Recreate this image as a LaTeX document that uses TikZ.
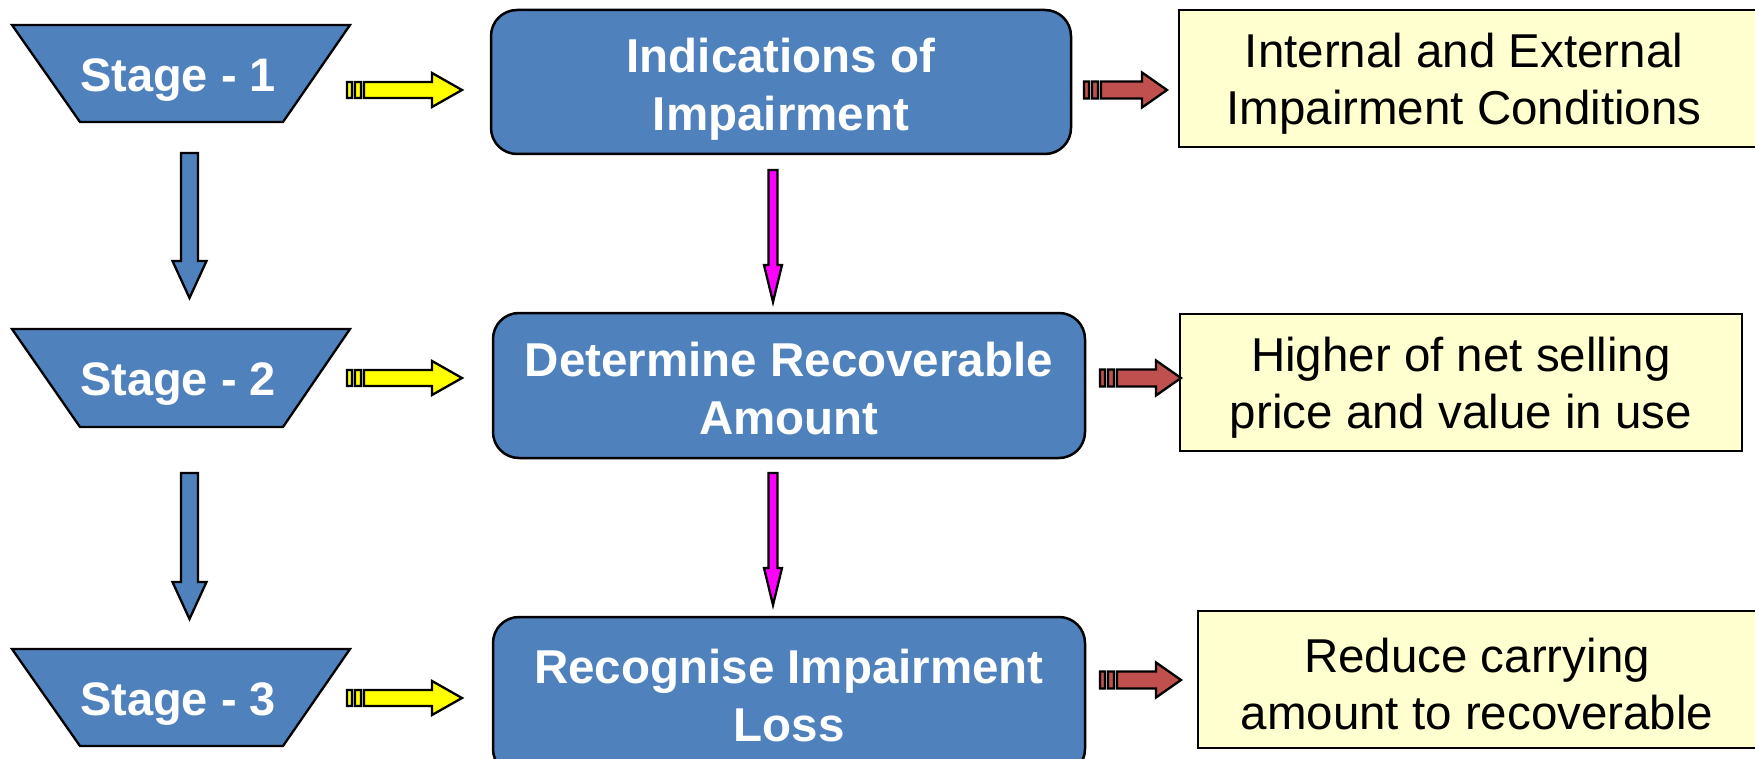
\documentclass[tikz,border=0pt]{standalone}
\usepackage{fontspec}
\setmainfont{Liberation Sans}
\usetikzlibrary{calc}

\definecolor{stageblue}{RGB}{79,129,189}
\definecolor{arrowred}{RGB}{192,80,77}
\definecolor{arrowyellow}{RGB}{255,255,0}
\definecolor{arrowmagenta}{RGB}{255,0,255}
\definecolor{notefill}{RGB}{255,255,208}

% Horizontal striped block arrow: fill, tail, tip, shaft half-height, head half-height, head length
\newcommand\StripedArrow[6]{%
  \draw[blockline, fill=#1] let \p1=(#2), \p2=(#3) in
    (\x1,\y1-#4) rectangle (\x1+5,\y1+#4)
    (\x1+8,\y1-#4) rectangle (\x1+14,\y1+#4)
    (\x1+17,\y1-#4) -- (\x2-#6,\y1-#4) -- (\x2-#6,\y1-#5) -- (\x2,\y1)
      -- (\x2-#6,\y1+#5) -- (\x2-#6,\y1+#4) -- (\x1+17,\y1+#4) -- cycle;
}

% Vertical block arrow: fill, top, tip, shaft half-width, head half-width, head length
\newcommand\DownArrow[6]{%
  \draw[blockline, fill=#1] let \p1=(#2), \p2=(#3) in
    (\x1-#4,\y1) -- (\x1+#4,\y1) -- (\x1+#4,\y2+#6) -- (\x1+#5,\y2+#6)
      -- (\x2,\y2) -- (\x1-#5,\y2+#6) -- (\x1-#4,\y2+#6) -- cycle;
}

\begin{document}
\begin{tikzpicture}[x=1pt,y=-1pt,
  blockline/.style={draw=black, line width=2.3pt, line join=miter},
  stagebox/.style={blockline, fill=stageblue},
  stagetext/.style={font=\bfseries\fontsize{47}{56}\selectfont, text=white, inner sep=0pt},
  processbox/.style={draw=black, line width=2.5pt, fill=stageblue, rounded corners=26pt, inner sep=0pt},
  processtext/.style={text=white, font=\bfseries\fontsize{47.5}{58}\selectfont, align=center, inner sep=0pt},
  notebox/.style={draw=black, line width=2.5pt, fill=notefill},
  notetext/.style={font=\fontsize{47.5}{57}\selectfont, align=center, inner sep=0pt},
]
\useasboundingbox (0,0) rectangle (1755,759);
\clip (0,0) rectangle (1755,759);

% Stage trapezoids
\draw[stagebox] (12,25) -- (350,25) -- (283,122) -- (80,122) -- cycle;
\node[stagetext] (stage1) at (178,80) {Stage - 1};
\draw[stagebox] (12,329) -- (350,329) -- (283,427) -- (80,427) -- cycle;
\node[stagetext] (stage2) at (178,384) {Stage - 2};
\draw[stagebox] (12,649) -- (350,649) -- (283,746) -- (80,746) -- cycle;
\node[stagetext] (stage3) at (178,704) {Stage - 3};

% Process boxes
\node[processbox, minimum width=580pt, minimum height=144pt] (ind) at (781,82) {};
\node[processtext] (indtext) at (781,89) {Indications of\\Impairment};
\node[processbox, minimum width=592pt, minimum height=145pt] (det) at (789,385.5) {};
\node[processtext] (dettext) at (789,389) {Determine Recoverable\\Amount};
\node[processbox, minimum width=592pt, minimum height=158pt] (rec) at (789,696) {};
\node[processtext] (rectext) at (789,696) {Recognise Impairment\\Loss};

% Note boxes
\draw[notebox] (1179,10) rectangle (1775,147);
\node[notetext] (noteA) at (1464,84) {Internal and External\\Impairment Conditions};
\draw[notebox] (1180,314) rectangle (1742,451);
\node[notetext] (noteB) at (1461,388) {Higher of net selling\\price and value in use};
\draw[notebox] (1198,611) rectangle (1775,748);
\node[notetext] (noteC) at (1477,684) {Reduce carrying\\amount to recoverable};

% Arrow end points
\coordinate (ya1) at (347,90);   \coordinate (yb1) at (462,90);
\coordinate (ya2) at (347,378);  \coordinate (yb2) at (462,378);
\coordinate (ya3) at (347,698);  \coordinate (yb3) at (462,698);
\coordinate (ra1) at (1084,90);  \coordinate (rb1) at (1167,90);
\coordinate (ra2) at (1100,378); \coordinate (rb2) at (1181,378);
\coordinate (ra3) at (1100,680); \coordinate (rb3) at (1181,680);
\coordinate (ba1) at (189.5,153); \coordinate (bb1) at (189.5,298);
\coordinate (ba2) at (189.5,473); \coordinate (bb2) at (189.5,619);
\coordinate (ma1) at (773,170);  \coordinate (mb1) at (773,302);
\coordinate (ma2) at (773,473);  \coordinate (mb2) at (773,605);

% Stage to process arrows
\StripedArrow{arrowyellow}{ya1}{yb1}{8}{17}{30}
\StripedArrow{arrowyellow}{ya2}{yb2}{8}{17}{30}
\StripedArrow{arrowyellow}{ya3}{yb3}{8}{17}{30}

% Process to note arrows
\StripedArrow{arrowred}{ra1}{rb1}{8.5}{17.5}{25}
\StripedArrow{arrowred}{ra2}{rb2}{8.5}{17.5}{25}
\StripedArrow{arrowred}{ra3}{rb3}{8.5}{17.5}{25}

% Stage sequence arrows
\DownArrow{stageblue}{ba1}{bb1}{8.5}{17}{37}
\DownArrow{stageblue}{ba2}{bb2}{8.5}{17}{37}

% Process sequence arrows
\DownArrow{arrowmagenta}{ma1}{mb1}{4.5}{9}{37}
\DownArrow{arrowmagenta}{ma2}{mb2}{4.5}{9}{37}
\end{tikzpicture}
\end{document}
